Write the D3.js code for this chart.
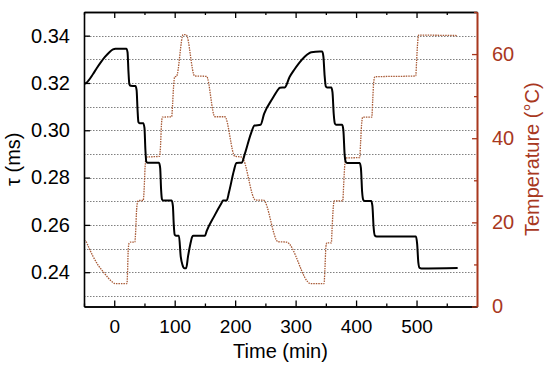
<!DOCTYPE html>
<html>
<head>
<meta charset="utf-8">
<script src="https://cdn.jsdelivr.net/npm/d3@7"></script>
<style>
    body { margin: 0; background: #fff; }
    svg text { font-family: "Liberation Sans", Arial, sans-serif; }
</style>
</head>
<body>
<svg id="chart"></svg>
<script>
// Values. Time in minutes.
const tauTime = [-50, -47, -42, -35, -29, -22, -15, -8, -2, 2, 20,
    22, 23.5, 25, 27, 35, 37, 38.5, 40, 42, 48, 50, 51.5, 53, 55, 74,
    76, 77.5, 79, 81, 95, 97, 98.5, 100, 102, 107,
    110, 113, 116, 119, 122, 126, 129, 131, 150,
    153, 165, 177, 180, 186, 190, 198, 202, 211, 216, 226, 232, 242,
    248, 262, 272, 274, 282, 290, 298, 306, 315, 322, 326, 340, 344,
    346, 348, 350, 352, 359, 361, 363, 365, 367, 377, 379, 381, 383, 385, 406,
    408, 410, 412, 414, 425, 427, 429, 431, 434, 499, 501, 503, 505, 508, 568];
const tauValues = [0.3198, 0.3199, 0.3212, 0.3238, 0.3262, 0.3288, 0.3311, 0.3330, 0.3342, 0.3345, 0.3345,
    0.3330, 0.3250, 0.3195, 0.3188, 0.3187, 0.3170, 0.3090, 0.3035, 0.3030, 0.3030, 0.3010, 0.2920, 0.2868, 0.2863, 0.2863,
    0.2840, 0.2750, 0.2708, 0.2703, 0.2703, 0.2680, 0.2600, 0.2558, 0.2554, 0.2554,
    0.2466, 0.2430, 0.2417, 0.2417, 0.2466, 0.2520, 0.2550, 0.2554, 0.2554,
    0.2575, 0.2635, 0.2690, 0.2703, 0.2703, 0.2740, 0.2830, 0.2862, 0.2863, 0.2900, 0.2985, 0.3020, 0.3023,
    0.3070, 0.3135, 0.3175, 0.3180, 0.3181, 0.3225, 0.3257, 0.3285, 0.3311, 0.3325, 0.3330, 0.3333, 0.3333,
    0.3310, 0.3230, 0.3185, 0.3181, 0.3181, 0.3160, 0.3070, 0.3028, 0.3023, 0.3023, 0.3000, 0.2900, 0.2866, 0.2862, 0.2862,
    0.2840, 0.2740, 0.2705, 0.2701, 0.2701, 0.2680, 0.2590, 0.2555, 0.2551, 0.2551, 0.2520, 0.2440, 0.2418, 0.2416, 0.2418];

const tempTime = [-50, -47, -42, -35, -27, -18, -10, -3, 1, 21,
    22, 23, 24.5, 27, 34, 35.5, 37, 39, 41, 48, 49.5, 51, 53, 75,
    76.5, 78, 79.5, 95, 96.5, 98, 100, 103,
    114, 119, 133, 152.7, 166.4, 183, 199.5, 211, 233.7, 246.6, 271, 285, 325, 347,
    348.5, 350, 351.5, 359, 360.5, 362, 364, 378, 379.5, 381, 383, 406,
    407.5, 409, 411, 426, 427.5, 429, 431, 498.7, 500, 501.5, 503.5, 567.6];
const tempValues = [15.7, 15.5, 14.0, 11.9, 9.9, 8.2, 6.8, 5.8, 5.45, 5.45,
    8, 13, 15.0, 15.3, 15.3, 18, 23, 25.0, 25.2, 25.2, 28, 33, 35.5, 35.7,
    38, 43, 45.0, 45.1, 48, 52, 54.6, 54.7,
    64.6, 64.6, 54.8, 54.7, 45.1, 45.1, 35.7, 35.5, 25.3, 25.3, 15.4, 15.3, 5.45, 5.45,
    9, 14, 15.1, 15.1, 19, 23, 25.1, 25.1, 29, 33, 35.3, 35.4,
    39, 43, 45.0, 45.0, 49, 53, 54.6, 54.8, 58, 62, 64.5, 64.4];

const timeTicks = [0, 100, 200, 300, 400, 500];
const timeMinorTicks = [-50, 50, 150, 250, 350, 450, 550];
const tauTicks = [0.24, 0.26, 0.28, 0.30, 0.32, 0.34];
const tauGrid = [0.23, 0.24, 0.25, 0.26, 0.27, 0.28, 0.29, 0.30, 0.31, 0.32, 0.33, 0.34];
const tempTicks = [0, 20, 40, 60];
const tempMinorTicks = [10, 30, 50, 70];

const width = 550;
const height = 371;
const plot = { left: 84, right: 477, top: 12, bottom: 306.5 };
const red = "#a8381e";
const lineRed = "#a85a36";

const svg = d3.select("#chart").attr("width", width).attr("height", height);

const x = d3.scaleLinear().domain([-50, 600]).range([plot.left, plot.right]);
const yTau = d3.scaleLinear().domain([0.2255, 0.35]).range([plot.bottom, plot.top]);
const yTemp = d3.scaleLinear().domain([0, 70]).range([plot.bottom, plot.top]);

// dotted horizontal grid
svg.append("g")
    .selectAll("line")
    .data(tauGrid)
    .join("line")
    .attr("x1", plot.left)
    .attr("x2", plot.right)
    .attr("y1", d => Math.round(yTau(d)) + 0.5)
    .attr("y2", d => Math.round(yTau(d)) + 0.5)
    .attr("stroke", "#808080")
    .attr("stroke-width", 1)
    .attr("stroke-dasharray", "1.5,1.5");

// temperature (dotted red)
const tempLine = d3.line()
    .x((d, i) => x(tempTime[i]))
    .y(d => yTemp(d))
    .curve(d3.curveMonotoneX);

svg.append("path")
    .datum(tempValues)
    .attr("d", tempLine)
    .attr("fill", "none")
    .attr("stroke", lineRed)
    .attr("stroke-width", 1.3)
    .attr("stroke-dasharray", "1.5,1");

// tau (solid black)
const tauLine = d3.line()
    .x((d, i) => x(tauTime[i]))
    .y(d => yTau(d))
    .curve(d3.curveMonotoneX);

svg.append("path")
    .datum(tauValues)
    .attr("d", tauLine)
    .attr("fill", "none")
    .attr("stroke", "#000")
    .attr("stroke-width", 2);

function styleAxis(g, color, size) {
    g.select(".domain").attr("stroke", color).attr("stroke-width", 1.6);
    g.selectAll(".tick line").attr("stroke", color).attr("stroke-width", 1.3);
    g.selectAll("text").attr("fill", color).style("font-size", size || "19px");
}

// bottom axis with labels, plus minor ticks
svg.append("g")
    .attr("transform", `translate(0,${plot.bottom})`)
    .call(d3.axisBottom(x).tickValues(timeMinorTicks).tickSizeInner(-3).tickSizeOuter(0).tickFormat(""))
    .call(g => styleAxis(g, "#000"));
svg.append("g")
    .attr("transform", `translate(0,${plot.bottom})`)
    .call(d3.axisBottom(x).tickValues(timeTicks).tickSizeInner(-6).tickSizeOuter(0).tickPadding(13.5))
    .call(g => styleAxis(g, "#000"));

// top axis, ticks only
svg.append("g")
    .attr("transform", `translate(0,${plot.top})`)
    .call(d3.axisTop(x).tickValues(timeMinorTicks).tickSizeInner(-3).tickSizeOuter(0).tickFormat(""))
    .call(g => styleAxis(g, "#000"));
svg.append("g")
    .attr("transform", `translate(0,${plot.top})`)
    .call(d3.axisTop(x).tickValues(timeTicks).tickSizeInner(-6).tickSizeOuter(0).tickFormat(""))
    .call(g => styleAxis(g, "#000"));

// left axis (tau)
svg.append("g")
    .attr("transform", `translate(${plot.left},0)`)
    .call(d3.axisLeft(yTau).tickValues(tauTicks).tickSizeInner(-6).tickSizeOuter(0)
        .tickPadding(14).tickFormat(d3.format(".2f")))
    .call(g => styleAxis(g, "#000", "20px"));

// right axis (temperature)
svg.append("g")
    .attr("transform", `translate(${plot.right},0)`)
    .call(d3.axisRight(yTemp).tickValues(tempMinorTicks).tickSizeInner(-3).tickSizeOuter(0).tickFormat(""))
    .call(g => styleAxis(g, red));
svg.append("g")
    .attr("transform", `translate(${plot.right},0)`)
    .call(d3.axisRight(yTemp).tickValues(tempTicks).tickSizeInner(-5).tickSizeOuter(0).tickPadding(15))
    .call(g => styleAxis(g, red, "20px"));

// axis titles
svg.append("text")
    .attr("x", (plot.left + plot.right) / 2)
    .attr("y", 358)
    .attr("text-anchor", "middle")
    .style("font-size", "20px")
    .text("Time (min)");

svg.append("text")
    .attr("transform", `translate(19.5,${(plot.top + plot.bottom) / 2}) rotate(-90)`)
    .attr("text-anchor", "middle")
    .style("font-size", "20px")
    .text("τ (ms)");

svg.append("text")
    .attr("transform", `translate(539,${(plot.top + plot.bottom) / 2}) rotate(-90)`)
    .attr("text-anchor", "middle")
    .attr("fill", red)
    .style("font-size", "20px")
    .text("Temperature (°C)");
</script>
</body>
</html>
